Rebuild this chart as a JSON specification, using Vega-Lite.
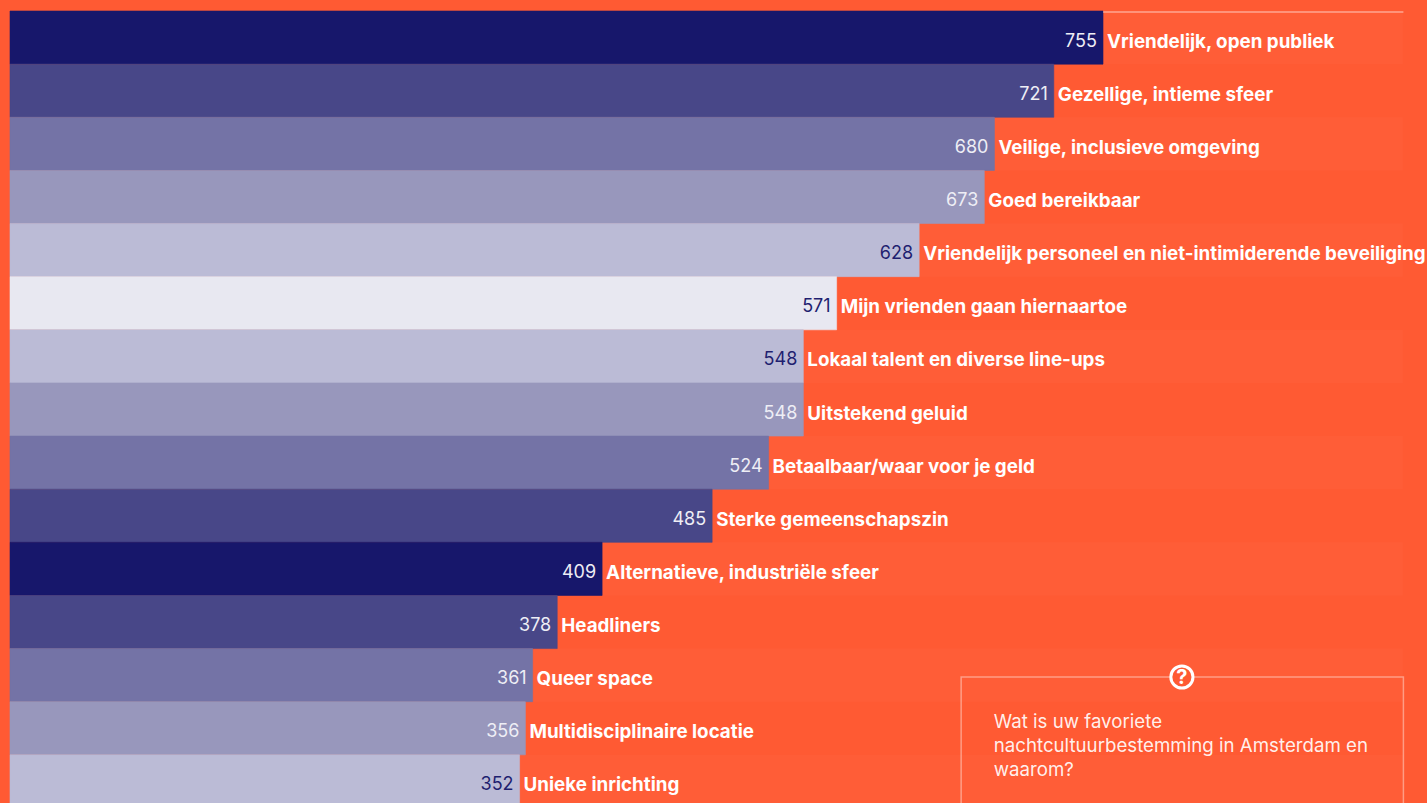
{
"$schema":"https://vega.github.io/schema/vega-lite/v6.json",
"width":1417,"height":792,
"autosize":{"type":"none"},
"padding":{"left":10,"top":11,"right":0,"bottom":0},
"background":"#FF5A33",
"config":{"view":{"stroke":null},"text":{"font":"Inter"}},
"datasets":{
"rows":[
{"label":"Vriendelijk, open publiek","value":755,"shade":1,"band":"licht","end":962},
{"label":"Gezellige, intieme sfeer","value":721,"shade":2,"band":"basis","end":962},
{"label":"Veilige, inclusieve omgeving","value":680,"shade":3,"band":"licht","end":962},
{"label":"Goed bereikbaar","value":673,"shade":4,"band":"basis","end":962},
{"label":"Vriendelijk personeel en niet-intimiderende beveiliging","value":628,"shade":5,"band":"licht","end":962},
{"label":"Mijn vrienden gaan hiernaartoe","value":571,"shade":6,"band":"basis","end":962},
{"label":"Lokaal talent en diverse line-ups","value":548,"shade":5,"band":"licht","end":962},
{"label":"Uitstekend geluid","value":548,"shade":4,"band":"basis","end":962},
{"label":"Betaalbaar/waar voor je geld","value":524,"shade":3,"band":"licht","end":962},
{"label":"Sterke gemeenschapszin","value":485,"shade":2,"band":"basis","end":962},
{"label":"Alternatieve, industriële sfeer","value":409,"shade":1,"band":"licht","end":962},
{"label":"Headliners","value":378,"shade":2,"band":"basis","end":962},
{"label":"Queer space","value":361,"shade":3,"band":"licht","end":962},
{"label":"Multidisciplinaire locatie","value":356,"shade":4,"band":"basis","end":962},
{"label":"Unieke inrichting","value":352,"shade":5,"band":"licht","end":962}
],
"box":[{"a":657,"b":962.5,"top":666,"bottom":860}],
"topline":[{"a":755,"b":962.5,"pos":1}],
"icon":[{"a":809.5,"pos":666,"q":"?"}],
"question":[
{"a":679.5,"pos":711,"line":"Wat is uw favoriete"},
{"a":679.5,"pos":735,"line":"nachtcultuurbestemming in Amsterdam en"},
{"a":679.5,"pos":759,"line":"waarom?"}
]
},
"resolve":{"scale":{"y":"independent"}},
"layer":[
{
"data":{"name":"rows"},
"encoding":{
"y":{"field":"label","type":"nominal","sort":null,"axis":null,"scale":{"range":[0,797],"paddingInner":0,"paddingOuter":0}}
},
"layer":[
{"mark":{"type":"bar","fill":"#ffffff"},
 "encoding":{
  "x":{"field":"end","type":"quantitative","axis":null,"scale":{"domain":[0,978.8],"nice":false,"zero":true}},
  "opacity":{"condition":{"test":"datum.band === 'licht'","value":0.025},"value":0}
 }},
{"mark":{"type":"bar","strokeWidth":0.6},
 "encoding":{
  "x":{"field":"value","type":"quantitative","axis":null,"scale":{"domain":[0,978.8],"nice":false,"zero":true}},
  "color":{"field":"shade","type":"ordinal","legend":null,"scale":{"domain":[1,2,3,4,5,6],"range":["#17176B","#484788","#7473A6","#9897BC","#BBBBD6","#E8E8F1"]}},
  "stroke":{"field":"shade","type":"ordinal","legend":null,"scale":{"domain":[1,2,3,4,5,6],"range":["#17176B","#484788","#7473A6","#9897BC","#BBBBD6","#E8E8F1"]}}
 }},
{"mark":{"type":"text","align":"right","baseline":"middle","dx":-6,"dy":4,"fontSize":18,"fontWeight":400,"font":"Inter"},
 "encoding":{
  "x":{"field":"value","type":"quantitative"},
  "text":{"field":"value","type":"quantitative"},
  "color":{"condition":{"test":"datum.shade >= 5","value":"#1F1F70"},"value":"#EEEEF5"}
 }},
{"mark":{"type":"text","align":"left","baseline":"middle","dx":4,"dy":4,"fontSize":18.8,"fontWeight":700,"font":"Inter","fill":"#ffffff"},
 "encoding":{
  "x":{"field":"value","type":"quantitative"},
  "text":{"field":"label","type":"nominal"}
 }}
]
},
{
"encoding":{},
"layer":[
{"data":{"name":"box"},
 "mark":{"type":"rect","fill":null,"stroke":"#ffffff","strokeOpacity":0.4,"strokeWidth":1.5,"clip":false},
 "encoding":{
  "x":{"field":"a","type":"quantitative","axis":null},
  "x2":{"field":"b"},
  "y":{"field":"top","type":"quantitative","axis":null,"scale":{"domain":[0,792],"range":[0,792],"nice":false,"zero":false}},
  "y2":{"field":"bottom"}
 }},
{"data":{"name":"topline"},
 "mark":{"type":"rule","stroke":"#ffffff","strokeOpacity":0.45,"strokeWidth":1.5},
 "encoding":{
  "x":{"field":"a","type":"quantitative"},
  "x2":{"field":"b"},
  "y":{"field":"pos","type":"quantitative"}
 }},
{"data":{"name":"icon"},
 "mark":{"type":"point","shape":"circle","filled":true,"fill":"#FF5A33","stroke":"#ffffff","strokeWidth":3,"size":490,"opacity":1},
 "encoding":{
  "x":{"field":"a","type":"quantitative"},
  "y":{"field":"pos","type":"quantitative"}
 }},
{"data":{"name":"icon"},
 "mark":{"type":"text","align":"center","baseline":"middle","fontSize":20,"fontWeight":700,"font":"Inter","fill":"#ffffff","dy":1},
 "encoding":{
  "x":{"field":"a","type":"quantitative"},
  "y":{"field":"pos","type":"quantitative"},
  "text":{"field":"q","type":"nominal"}
 }},
{"data":{"name":"question"},
 "mark":{"type":"text","align":"left","baseline":"middle","fontSize":18.7,"fontWeight":400,"font":"Inter","fill":"#ffffff","fillOpacity":0.92},
 "encoding":{
  "x":{"field":"a","type":"quantitative"},
  "y":{"field":"pos","type":"quantitative"},
  "text":{"field":"line","type":"nominal"}
 }}
]
}
]
}
